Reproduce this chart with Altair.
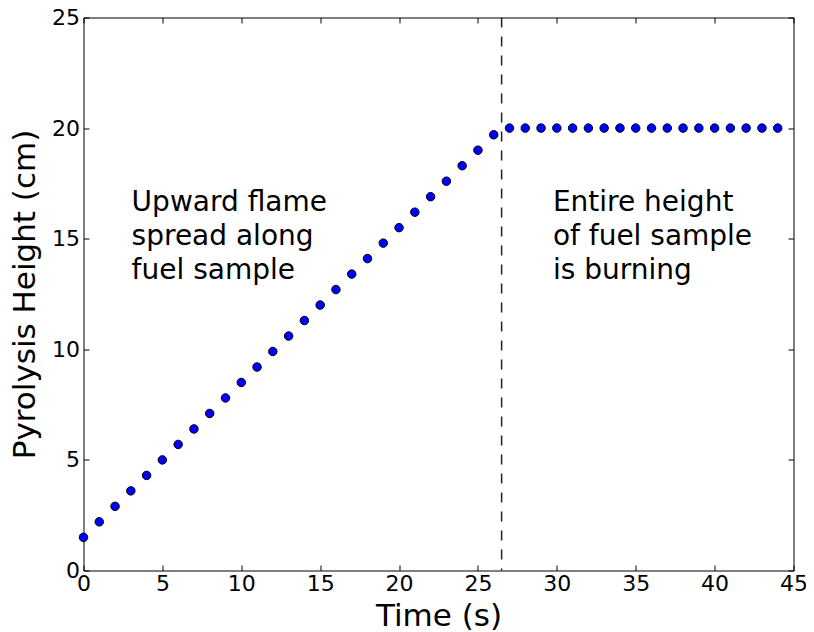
import altair as alt
import pandas as pd

time_s = list(range(0, 45))
height_cm = [1.5, 2.2, 2.9, 3.6, 4.3, 5.0, 5.7, 6.4, 7.1, 7.8,
             8.5, 9.2, 9.9, 10.6, 11.3, 12.0, 12.7, 13.4, 14.1, 14.8,
             15.5, 16.2, 16.9, 17.6, 18.3, 19.0, 19.7,
             20.0, 20.0, 20.0, 20.0, 20.0, 20.0, 20.0, 20.0, 20.0,
             20.0, 20.0, 20.0, 20.0, 20.0, 20.0, 20.0, 20.0, 20.0]
burn_time = [26.5]
note_text = ["Upward flame\nspread along\nfuel sample", "Entire height\nof fuel sample\nis burning"]
note_x = [3.05, 29.75]
note_y = [16.25, 16.25]
x_ticks = [0, 5, 10, 15, 20, 25, 30, 35, 40, 45]
y_ticks = [0, 5, 10, 15, 20, 25]

df = pd.DataFrame({"t": time_s, "h": height_cm})
df_rule = pd.DataFrame({"t": burn_time})
df_note = pd.DataFrame({"t": note_x, "h": note_y, "label": note_text})

FONT = "DejaVu Sans"
TICK = 5.5
xscale = alt.Scale(domain=[0, 45], nice=False, zero=False)
yscale = alt.Scale(domain=[0, 25], nice=False, zero=False)

points = alt.Chart(df).mark_point(
    shape="circle", filled=True, fill="#0000ff", stroke="black",
    strokeWidth=1, size=72, opacity=1
).encode(
    x=alt.X("t:Q", scale=xscale, axis=alt.Axis(
        title="Time (s)", values=x_ticks, orient="bottom", offset=-TICK,
        tickSize=TICK, tickColor="black", domain=False, grid=False,
        labelFontSize=22, labelFont=FONT, labelColor="black", labelPadding=3,
        titleFontSize=31, titleFont=FONT, titleFontWeight="normal",
        titleColor="black", titlePadding=7, labelFlush=False)),
    y=alt.Y("h:Q", scale=yscale, axis=alt.Axis(
        title="Pyrolysis Height (cm)", values=y_ticks, orient="left", offset=-TICK,
        tickSize=TICK, tickColor="black", domain=False, grid=False,
        labelFontSize=22, labelFont=FONT, labelColor="black", labelPadding=4,
        titleFontSize=31, titleFont=FONT, titleFontWeight="normal",
        titleColor="black", titlePadding=10, labelFlush=False)),
)

mirror = alt.Chart(df).mark_point(opacity=0).encode(
    x=alt.X("t:Q", scale=xscale, axis=alt.Axis(
        title=None, values=x_ticks, orient="top", offset=-TICK,
        tickSize=TICK, tickColor="black", domain=False, grid=False,
        labels=False)),
    y=alt.Y("h:Q", scale=yscale, axis=alt.Axis(
        title=None, values=y_ticks, orient="right", offset=-TICK,
        tickSize=TICK, tickColor="black", domain=False, grid=False,
        labels=False)),
)

rule = alt.Chart(df_rule).mark_rule(
    color="#222222", strokeWidth=1.5, strokeDash=[10, 9]
).encode(x=alt.X("t:Q", scale=xscale, axis=None))

notes = alt.Chart(df_note).mark_text(
    align="left", baseline="alphabetic", font=FONT, fontSize=28,
    lineBreak="\n", lineHeight=34, color="black"
).encode(
    x=alt.X("t:Q", scale=xscale, axis=None),
    y=alt.Y("h:Q", scale=yscale, axis=None),
    text="label:N",
)

chart = alt.layer(rule, points, notes, mirror).resolve_axis(
    x="independent", y="independent"
).properties(
    width=710, height=553,
    background="white",
    autosize=alt.AutoSizeParams(type="none"),
    padding={"left": 75.5, "top": 9.5, "right": 12.5, "bottom": 61.5},
).configure_view(
    stroke="black", strokeWidth=1
)

chart.save("out.html", embed_options={"renderer": "svg", "actions": False})
